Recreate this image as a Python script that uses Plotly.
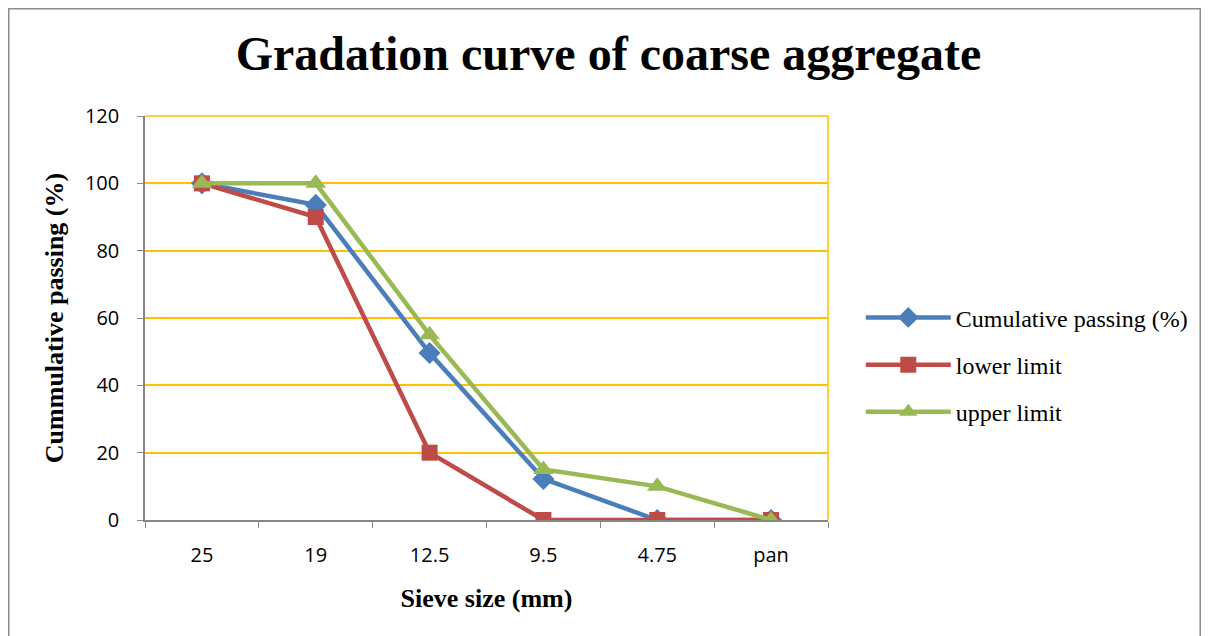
import plotly.graph_objects as go

sieve_sizes = ['25', '19', '12.5', '9.5', '4.75', 'pan']
cumulative_passing = [100, 93.6, 49.6, 12.2, 0, 0]
lower_limit = [100, 90, 20, 0, 0, 0]
upper_limit = [100, 100, 55, 15, 10, 0]

fig = go.Figure()
fig.add_trace(go.Scatter(x=sieve_sizes, y=cumulative_passing, name='Cumulative passing (%)',
                         legendgroup='a', mode='lines+markers', line=dict(color='#4A7EBB', width=4.5),
                         marker=dict(symbol='diamond', size=17, color='#4A7EBB')))
fig.add_trace(go.Scatter(x=sieve_sizes, y=lower_limit, name='lower limit',
                         legendgroup='b', mode='lines+markers', line=dict(color='#BE4B48', width=4.5),
                         marker=dict(symbol='square', size=16, color='#BE4B48')))
fig.add_trace(go.Scatter(x=sieve_sizes, y=upper_limit, name='upper limit',
                         legendgroup='c', mode='lines+markers', line=dict(color='#98B954', width=4.5),
                         marker=dict(symbol='triangle-up', size=18, color='#98B954')))

fig.update_layout(
    width=1201, height=628,
    paper_bgcolor='white', plot_bgcolor='white',
    margin=dict(l=137, r=381, t=108, b=116),
    title=dict(text='<b>Gradation curve of coarse aggregate</b>', x=0.5, xanchor='center',
               y=0.928, yanchor='middle',
               font=dict(family='Liberation Serif', size=48, color='black')),
    legend=dict(x=1.048, y=0.384, xanchor='left', yanchor='middle',
                font=dict(family='Liberation Serif', size=24, color='black'),
                tracegroupgap=13, itemwidth=85),
    showlegend=True,
)
fig.update_xaxes(type='category', range=[-0.5, 5.5], showline=True, linecolor='#868686', linewidth=1.5,
                 ticks='outside', tickson='boundaries', tickcolor='#868686', ticklen=6,
                 ticklabelstandoff=16, showgrid=False, mirror=False,
                 tickfont=dict(family='Open Sans', size=20, color='black'),
                 title=dict(text='<b>Sieve size (mm)</b>', standoff=22,
                            font=dict(family='Liberation Serif', size=26, color='black')))
fig.update_yaxes(range=[0, 120], dtick=20, showline=True, linecolor='#868686', linewidth=1.5,
                 ticks='outside', tickcolor='#868686', ticklen=6, ticklabelstandoff=14,
                 showgrid=True, gridcolor='#FFC000', gridwidth=1.5, zeroline=False,
                 tickfont=dict(family='Open Sans', size=20, color='black'),
                 title=dict(text='<b>Cummulative passing (%)</b>', standoff=14,
                            font=dict(family='Liberation Serif', size=26, color='black')))
# gold right/top edges of the plot area
fig.add_shape(type='line', xref='paper', yref='paper', x0=1, x1=1, y0=0, y1=1,
              line=dict(color='#FFC000', width=1.5))
fig.add_shape(type='line', xref='paper', yref='paper', x0=0, x1=1, y0=1, y1=1,
              line=dict(color='#FFC000', width=1.5))
# outer chart border
fig.add_shape(type='rect', xref='paper', yref='paper', x0=-0.1995, x1=1.545, y0=-0.32, y1=1.2655,
              line=dict(color='#8C8C8C', width=1.5), layer='below')

fig.write_html('out.html')
